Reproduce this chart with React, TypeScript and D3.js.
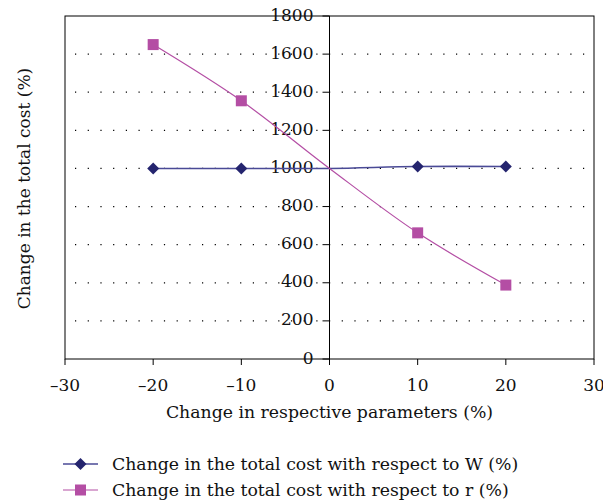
import React from "react";
import * as d3 from "d3";

const xValues = [-20, -10, 0, 10, 20];
const wValues = [1000, 1000, 1000, 1010, 1010];
const rValues = [1650, 1355, 1000, 662, 388];
const markerX = [-20, -10, 10, 20];
const xTicks = [-30, -20, -10, 0, 10, 20, 30];
const yTicks = [0, 200, 400, 600, 800, 1000, 1200, 1400, 1600, 1800];
const seriesNames = [
  "Change in the total cost with respect to W (%)",
  "Change in the total cost with respect to r (%)",
];

const FONT = "'DejaVu Serif', serif";
const W_COLOR = "#24246e";
const W_LINE = "#4a4a96";
const R_COLOR = "#b44ea4";

export default function App() {
  const left = 65, right = 594, top = 16, bottom = 359;
  const x = d3.scaleLinear().domain([-30, 30]).range([left, right]);
  const y = d3.scaleLinear().domain([0, 1800]).range([bottom, top]);
  const line = d3
    .line<number>()
    .x((_, i) => x(xValues[i]))
    .y((d) => y(d))
    .curve(d3.curveCatmullRom.alpha(0.5));
  const diamond = (cx: number, cy: number, s: number) =>
    `M${cx},${cy - s}L${cx + s},${cy}L${cx},${cy + s}L${cx - s},${cy}Z`;
  const x0 = x(0);

  return (
    <svg width={603} height={504} style={{ position: "absolute", left: 0, top: 0 }} fontFamily={FONT}>
      <rect x={0} y={0} width={603} height={504} fill="#fff" />
      {/* grid */}
      {yTicks.filter((t) => t > 0 && t < 1800).map((t) => (
        <line key={t} x1={left + 10} x2={right} y1={y(t)} y2={y(t)} stroke="#000" strokeWidth={1.2} strokeDasharray="1.2 11.5" />
      ))}
      {/* frame */}
      <rect x={left} y={top} width={right - left} height={bottom - top} fill="none" stroke="#000" strokeWidth={1} />
      {/* y axis at x=0 */}
      <line x1={x0} x2={x0} y1={top} y2={bottom} stroke="#000" strokeWidth={1} />
      {yTicks.map((t) => (
        <g key={t}>
          <line x1={x0 - 7} x2={x0} y1={y(t)} y2={y(t)} stroke="#000" />
          <text x={x0 - 16} y={y(t) + 4.5} textAnchor="end" fontSize={17} fill="#111">{t}</text>
        </g>
      ))}
      {/* x ticks */}
      {xTicks.map((t) => (
        <g key={t}>
          <line x1={x(t)} x2={x(t)} y1={bottom} y2={bottom + 6} stroke="#000" />
          <text x={x(t)} y={bottom + 32} textAnchor="middle" fontSize={17} fill="#111">{t < 0 ? "\u2013" + Math.abs(t) : t}</text>
        </g>
      ))}
      <text x={x0} y={418} textAnchor="middle" fontSize={17.3} fill="#111">Change in respective parameters (%)</text>
      <text transform={`translate(30,${(top + bottom) / 2 + 1}) rotate(-90)`} textAnchor="middle" fontSize={17} fill="#111">Change in the total cost (%)</text>
      {/* series */}
      <path d={line(wValues) || ""} fill="none" stroke={W_LINE} strokeWidth={1.6} />
      <path d={line(rValues) || ""} fill="none" stroke={R_COLOR} strokeWidth={1.2} />
      {xValues.map((v, i) => markerX.includes(v) ? (
        <path key={"w" + i} d={diamond(x(v), y(wValues[i]), 6)} fill={W_COLOR} />
      ) : null)}
      {xValues.map((v, i) => markerX.includes(v) ? (
        <rect key={"r" + i} x={x(v) - 5.5} y={y(rValues[i]) - 5.5} width={11} height={11} fill={R_COLOR} />
      ) : null)}
      {/* legend */}
      <line x1={63} x2={98} y1={464} y2={464} stroke={W_LINE} strokeWidth={1.6} />
      <path d={diamond(80.5, 464, 6)} fill={W_COLOR} />
      <text x={112} y={470} fontSize={17.3} fill="#111">{seriesNames[0]}</text>
      <line x1={63} x2={98} y1={490} y2={490} stroke={R_COLOR} strokeWidth={1.2} />
      <rect x={75} y={484.5} width={11} height={11} fill={R_COLOR} />
      <text x={112} y={496} fontSize={17.3} fill="#111">{seriesNames[1]}</text>
    </svg>
  );
}
